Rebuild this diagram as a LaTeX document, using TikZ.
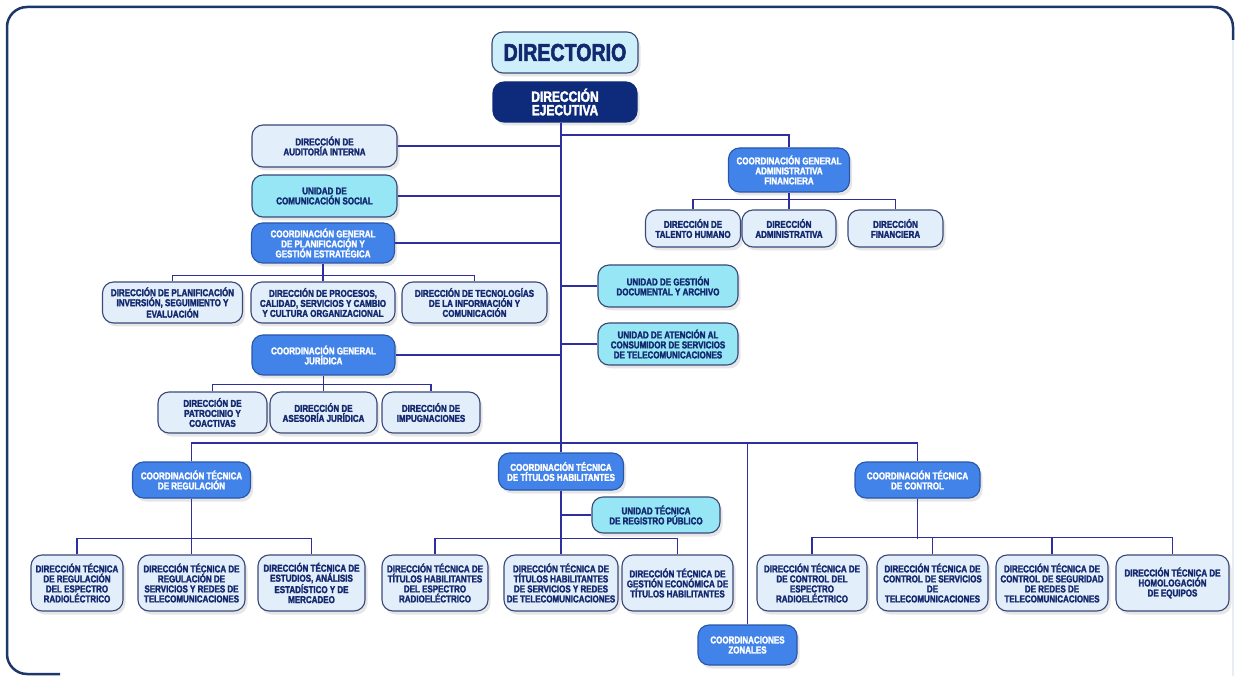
\documentclass[tikz,border=0pt]{standalone}
\usepackage{fontspec}
\newfontfamily\cond[FakeStretch=0.8, FakeBold=2.2]{Liberation Sans Bold}
\usetikzlibrary{shadows}
\definecolor{navytxt}{HTML}{13286E}
\definecolor{bord}{HTML}{3A4878}
\definecolor{lightf}{HTML}{E2EFFA}
\definecolor{cyanf}{HTML}{96E6F5}
\definecolor{dirf}{HTML}{CDEFFA}
\definecolor{medf}{HTML}{4283EA}
\definecolor{medbord}{HTML}{2A55A8}
\definecolor{navyf}{HTML}{0E2A7A}
\definecolor{linec}{HTML}{2E2E9E}
\definecolor{framec}{HTML}{1D3769}
\definecolor{framelt}{HTML}{E8EDF3}
\tikzset{
  box/.style={rounded corners=11pt, draw=bord, line width=1.1pt, align=center,
    font=\cond\fontsize{10}{10}\selectfont, text=navytxt, inner sep=1pt,
    drop shadow={opacity=0.2, shadow xshift=2.5pt, shadow yshift=-3.5pt}},
  lbox/.style={box, fill=lightf},
  cbox/.style={box, fill=cyanf},
  mbox/.style={box, fill=medf, draw=medbord, text=white},
  nbox/.style={box, fill=navyf, draw=navyf, text=white, font=\cond\fontsize{15}{13.5}\selectfont},
  dbox/.style={box, fill=dirf, font=\cond\fontsize{24.5}{24}\selectfont},
  conn/.style={draw=linec, line width=1.2pt},
  frame/.style={draw=framec, line width=2.5pt, rounded corners=20pt}
}
\begin{document}
\begin{tikzpicture}[x=1pt, y=-1pt]
\useasboundingbox (0,0) rectangle (1235,676);
\draw[frame] (60,674) -- (7,674) -- (7,7) -- (1233,7) -- (1233,40);
\draw[draw=framelt, line width=1.2pt] (1233,40) -- (1233,676);

% top
\node[dbox, minimum width=146pt, minimum height=41pt] (dir) at (565,52.5) {DIRECTORIO};
\node[nbox, minimum width=144pt, minimum height=40pt] (eje) at (565,102) {DIRECCIÓN\\EJECUTIVA};

% left column
\node[lbox, minimum width=145pt, minimum height=42pt] (aud) at (324.5,146) {DIRECCIÓN DE\\AUDITORÍA INTERNA};
\node[cbox, minimum width=145pt, minimum height=42pt] (ucs) at (324.5,196) {UNIDAD DE\\COMUNICACIÓN SOCIAL};
\node[mbox, minimum width=143pt, minimum height=40pt] (cgpge) at (323,243) {COORDINACIÓN GENERAL\\DE PLANIFICACIÓN Y\\GESTIÓN ESTRATÉGICA};
\node[lbox, minimum width=140pt, minimum height=41pt] (dpi) at (172.5,302.5) {DIRECCIÓN DE PLANIFICACIÓN\\INVERSIÓN, SEGUIMIENTO Y\\EVALUACIÓN};
\node[lbox, minimum width=144pt, minimum height=41pt] (dpc) at (323,302.5) {DIRECCIÓN DE PROCESOS,\\CALIDAD, SERVICIOS Y CAMBIO\\Y CULTURA ORGANIZACIONAL};
\node[lbox, minimum width=145pt, minimum height=41pt] (dtic) at (474.5,302.5) {DIRECCIÓN DE TECNOLOGÍAS\\DE LA INFORMACIÓN Y\\COMUNICACIÓN};
\node[mbox, minimum width=143pt, minimum height=40pt] (cgj) at (323.5,355) {COORDINACIÓN GENERAL\\JURÍDICA};
\node[lbox, minimum width=109pt, minimum height=41pt] (dpco) at (212.5,412.5) {DIRECCIÓN DE\\PATROCINIO Y\\COACTIVAS};
\node[lbox, minimum width=107pt, minimum height=41pt] (daj) at (323.5,412.5) {DIRECCIÓN DE\\ASESORÍA JURÍDICA};
\node[lbox, minimum width=98pt, minimum height=41pt] (dimp) at (431,412.5) {DIRECCIÓN DE\\IMPUGNACIONES};

% right column
\node[mbox, minimum width=121pt, minimum height=44pt] (cgaf) at (789,170) {COORDINACIÓN GENERAL\\ADMINISTRATIVA\\FINANCIERA};
\node[lbox, minimum width=95pt, minimum height=37pt] (dth) at (693,228.5) {DIRECCIÓN DE\\TALENTO HUMANO};
\node[lbox, minimum width=94pt, minimum height=37pt] (da) at (789,228.5) {DIRECCIÓN\\ADMINISTRATIVA};
\node[lbox, minimum width=95pt, minimum height=37pt] (df) at (895.5,228.5) {DIRECCIÓN\\FINANCIERA};
\node[cbox, minimum width=140pt, minimum height=42pt] (ugda) at (668,286) {UNIDAD DE GESTIÓN\\DOCUMENTAL Y ARCHIVO};
\node[cbox, minimum width=140pt, minimum height=42pt] (uac) at (668,344) {UNIDAD DE ATENCIÓN AL\\CONSUMIDOR DE SERVICIOS\\DE TELECOMUNICACIONES};

% coordinaciones tecnicas
\node[mbox, minimum width=118pt, minimum height=36pt] (ctr) at (191.5,480) {COORDINACIÓN TÉCNICA\\DE REGULACIÓN};
\node[mbox, minimum width=125pt, minimum height=37pt] (ctth) at (561,471.5) {COORDINACIÓN TÉCNICA\\DE TÍTULOS HABILITANTES};
\node[cbox, minimum width=128pt, minimum height=36pt] (utrp) at (656,515) {UNIDAD TÉCNICA\\DE REGISTRO PÚBLICO};
\node[mbox, minimum width=125pt, minimum height=36pt] (ctc) at (917.5,480) {COORDINACIÓN TÉCNICA\\DE CONTROL};
\node[mbox, minimum width=99pt, minimum height=40pt] (zon) at (747.5,645) {COORDINACIONES\\ZONALES};

% bottom row
\node[lbox, minimum width=92pt, minimum height=56pt] (b1) at (77,583) {DIRECCIÓN TÉCNICA\\DE REGULACIÓN\\DEL ESPECTRO\\RADIOLÉCTRICO};
\node[lbox, minimum width=107pt, minimum height=56pt] (b2) at (191.5,583) {DIRECCIÓN TÉCNICA DE\\REGULACIÓN DE\\SERVICIOS Y REDES DE\\TELECOMUNICACIONES};
\node[lbox, minimum width=107pt, minimum height=56pt] (b3) at (311.5,583) {DIRECCIÓN TÉCNICA DE\\ESTUDIOS, ANÁLISIS\\ESTADÍSTICO Y DE\\MERCADEO};
\node[lbox, minimum width=106pt, minimum height=56pt] (b4) at (435,583) {DIRECCIÓN TÉCNICA DE\\TÍTULOS HABILITANTES\\DEL ESPECTRO\\RADIOELÉCTRICO};
\node[lbox, minimum width=114pt, minimum height=56pt] (b5) at (561,583) {DIRECCIÓN TÉCNICA DE\\TÍTULOS HABILITANTES\\DE SERVICIOS Y REDES\\DE TELECOMUNICACIONES};
\node[lbox, minimum width=111pt, minimum height=56pt] (b6) at (677.5,583) {DIRECCIÓN TÉCNICA DE\\GESTIÓN ECONÓMICA DE\\TÍTULOS HABILITANTES};
\node[lbox, minimum width=110pt, minimum height=56pt] (b7) at (812,583) {DIRECCIÓN TÉCNICA DE\\DE CONTROL DEL\\ESPECTRO\\RADIOELÉCTRICO};
\node[lbox, minimum width=111pt, minimum height=56pt] (b8) at (932.5,583) {DIRECCIÓN TÉCNICA DE\\CONTROL DE SERVICIOS\\DE\\TELECOMUNICACIONES};
\node[lbox, minimum width=112pt, minimum height=56pt] (b9) at (1052,583) {DIRECCIÓN TÉCNICA DE\\CONTROL DE SEGURIDAD\\DE REDES DE\\TELECOMUNICACIONES};
\node[lbox, minimum width=113pt, minimum height=56pt] (b10) at (1172.5,583) {DIRECCIÓN TÉCNICA DE\\HOMOLOGACIÓN\\DE EQUIPOS};

% connectors
\coordinate (j1) at (561,135);
\coordinate (bus) at (561,443);
\draw[conn] (eje.south -| ctth.north) -- (ctth.north);
\draw[conn] (j1) -| (cgaf.north);
\draw[conn] (aud.east) -- (aud.east -| ctth.north);
\draw[conn] (ucs.east) -- (ucs.east -| ctth.north);
\draw[conn] (cgpge.east) -- (cgpge.east -| ctth.north);
\draw[conn] (cgj.east) -- (cgj.east -| ctth.north);
\draw[conn] (ugda.west) -- (ugda.west -| ctth.north);
\draw[conn] (uac.west) -- (uac.west -| ctth.north);

\draw[conn] (dpi.north) -- ++(0,-6) -| (dtic.north);
\draw[conn] (cgpge.south) -- (dpc.north);
\draw[conn] (dpco.north) -- ++(0,-7) -| (dimp.north);
\draw[conn] (cgj.south) -- (daj.north);
\draw[conn] (dth.north) -- ++(0,-10) -| (df.north);
\draw[conn] (cgaf.south) -- (da.north);

\draw[conn] (ctr.north) |- (bus) -| (ctc.north);
\draw[conn] (zon.north) -- (zon.north |- bus);

\draw[conn] (b1.north) -- ++(0,-16) -| (b3.north);
\draw[conn] (ctr.south) -- (b2.north);
\draw[conn] (b4.north) -- ++(0,-16) -| (b6.north);
\draw[conn] (ctth.south) -- (b5.north);
\draw[conn] (utrp.west) -- (utrp.west -| ctth.south);
\draw[conn] (b7.north) -- ++(0,-17) -| (b10.north);
\draw[conn] (b8.north) -- ++(0,-17);
\draw[conn] (b9.north) -- ++(0,-17);
\draw[conn] (ctc.south) -- ++(0,40);
\end{tikzpicture}
\end{document}
